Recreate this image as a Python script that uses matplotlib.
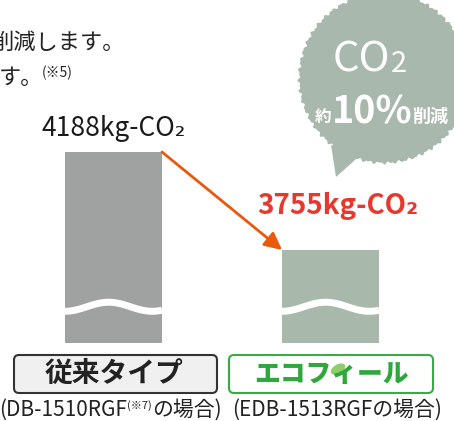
import numpy as np
import matplotlib.pyplot as plt
from matplotlib.patches import Polygon, FancyBboxPatch, Ellipse

plt.rcParams['font.family'] = ['Noto Sans CJK JP', 'DejaVu Sans']

# data
products = ['従来タイプ', 'エコフィール']
models = ['DB-1510RGF', 'EDB-1513RGF']
co2_kg = [4188, 3755]
reduction_pct = 10

bar_colors = ['#a0a2a1', '#a8b9ac']
value_colors = ['#1a1a1a', '#e8382e']
BASE = 3344          # the axis is cut (wavy break), bars start here

fig = plt.figure(figsize=(4.54, 4.21), dpi=100)
ax = fig.add_axes([0, 0, 1, 1])
ax.set_xlim(-0.523, 1.569)
ax.set_ylim(2999, 4860)
ax.axis('off')

xs = np.arange(len(co2_kg))
w = 0.447
vals = np.array(co2_kg)
ax.bar(xs, vals - BASE, bottom=BASE, width=w, color=bar_colors, zorder=2)

# wavy break across each bar
t = np.linspace(0, 1, 80)
for x in xs:
    ax.plot(x - w / 2 + t * w, BASE + 160 - 20 * np.cos(2 * np.pi * t / 0.9),
            color='white', lw=5, zorder=3, solid_capstyle='butt')

# value labels
ax.annotate(f'{co2_kg[0]}kg-CO₂', xy=(xs[0], vals[0]), xytext=(0, 10),
            textcoords='offset pixels', ha='center', va='bottom',
            fontsize=19, color=value_colors[0])
ax.annotate(f'{co2_kg[1]}kg-CO₂', xy=(xs[1] + 0.035, vals[1]), xytext=(0, 30),
            textcoords='offset pixels', ha='center', va='bottom',
            fontsize=20, fontweight='bold', color=value_colors[1])

# arrow from old to new
ax.annotate('', xy=(xs[1] - w / 2, vals[1]), xytext=(xs[0] + w / 2, vals[0]),
            arrowprops=dict(arrowstyle='-|>', color='#e8590c', lw=2,
                            mutation_scale=26, shrinkA=0, shrinkB=0), zorder=4)

# overlay in pixel coordinates for the decorations
ov = fig.add_axes([0, 0, 1, 1])
ov.set_xlim(0, 454)
ov.set_ylim(421, 0)
ov.axis('off')
renderer = fig.canvas.get_renderer()


def chain(parts, x, y, **kw):
    """Draw text pieces one after another: parts = [(text, size, dy, extra)]"""
    for s, size, dy, extra in parts:
        tx = ov.text(x, y + dy, s, fontsize=size, ha='left', va='baseline', **kw, **extra)
        bb = tx.get_window_extent(renderer)
        x = ov.transData.inverted().transform((bb.x1, bb.y0))[0]
    return x


ov.text(-8, 42, '削減します。', fontsize=16, va='center', ha='left', color='#222222')
ov.text(-1, 77, 'す。', fontsize=16, va='center', ha='left', color='#222222')
ov.text(42, 73, '(※5)', fontsize=10, va='center', ha='left', color='#222222')

# speech bubble
th = np.linspace(0, 2 * np.pi, 500)
r = 85 + 1.0 * np.sin(53 * th) + 0.8 * np.sin(97 * th + 1.0)
bx, by = 384 + r * np.cos(th), 78 + r * np.sin(th)
ov.add_patch(Polygon(np.column_stack([bx, by]), closed=True, fc='#a9b8ac', ec='none'))
ov.add_patch(Polygon([(331, 145), (336, 177), (364, 152)], closed=True,
                     fc='#a9b8ac', ec='none'))
chain([('CO', 30, 0, {}), ('2', 21, 0, {})], 333, 72, color='white')
chain([('約', 12, 0, {'fontweight': 'bold'}),
       (f'{reduction_pct}%', 27, 2, {'fontweight': 'bold'}),
       ('削減', 13, 0, {'fontweight': 'bold'})], 315, 122, color='white')

# product label boxes
ov.add_patch(FancyBboxPatch((14, 355), 203, 38, boxstyle='round,pad=0,rounding_size=5',
                            fc='#f0f0f0', ec='#333333', lw=1.5))
ov.add_patch(FancyBboxPatch((229, 355), 204, 38, boxstyle='round,pad=0,rounding_size=5',
                            fc='white', ec='#3aaa45', lw=1.5))
ov.text(114, 374, products[0], fontsize=20, fontweight='bold', color='#222222',
        ha='center', va='center')
ov.text(331, 374, products[1], fontsize=18.5, fontweight='heavy', color='#2ea83c',
        ha='center', va='center', style='italic')
ov.add_patch(Ellipse((338, 369), 16, 9, angle=-30, fc='#8fcf6a', ec='none'))

# model captions
chain([(f'({models[0]}', 15, 0, {}), ('(※7)', 8, -7, {}), ('の場合)', 15, 0, {})],
      -1, 416, color='#222222')
ov.text(337, 416, f'({models[1]}の場合)', fontsize=15, ha='center', va='baseline',
        color='#222222')

fig.savefig('out.png', dpi=100)
